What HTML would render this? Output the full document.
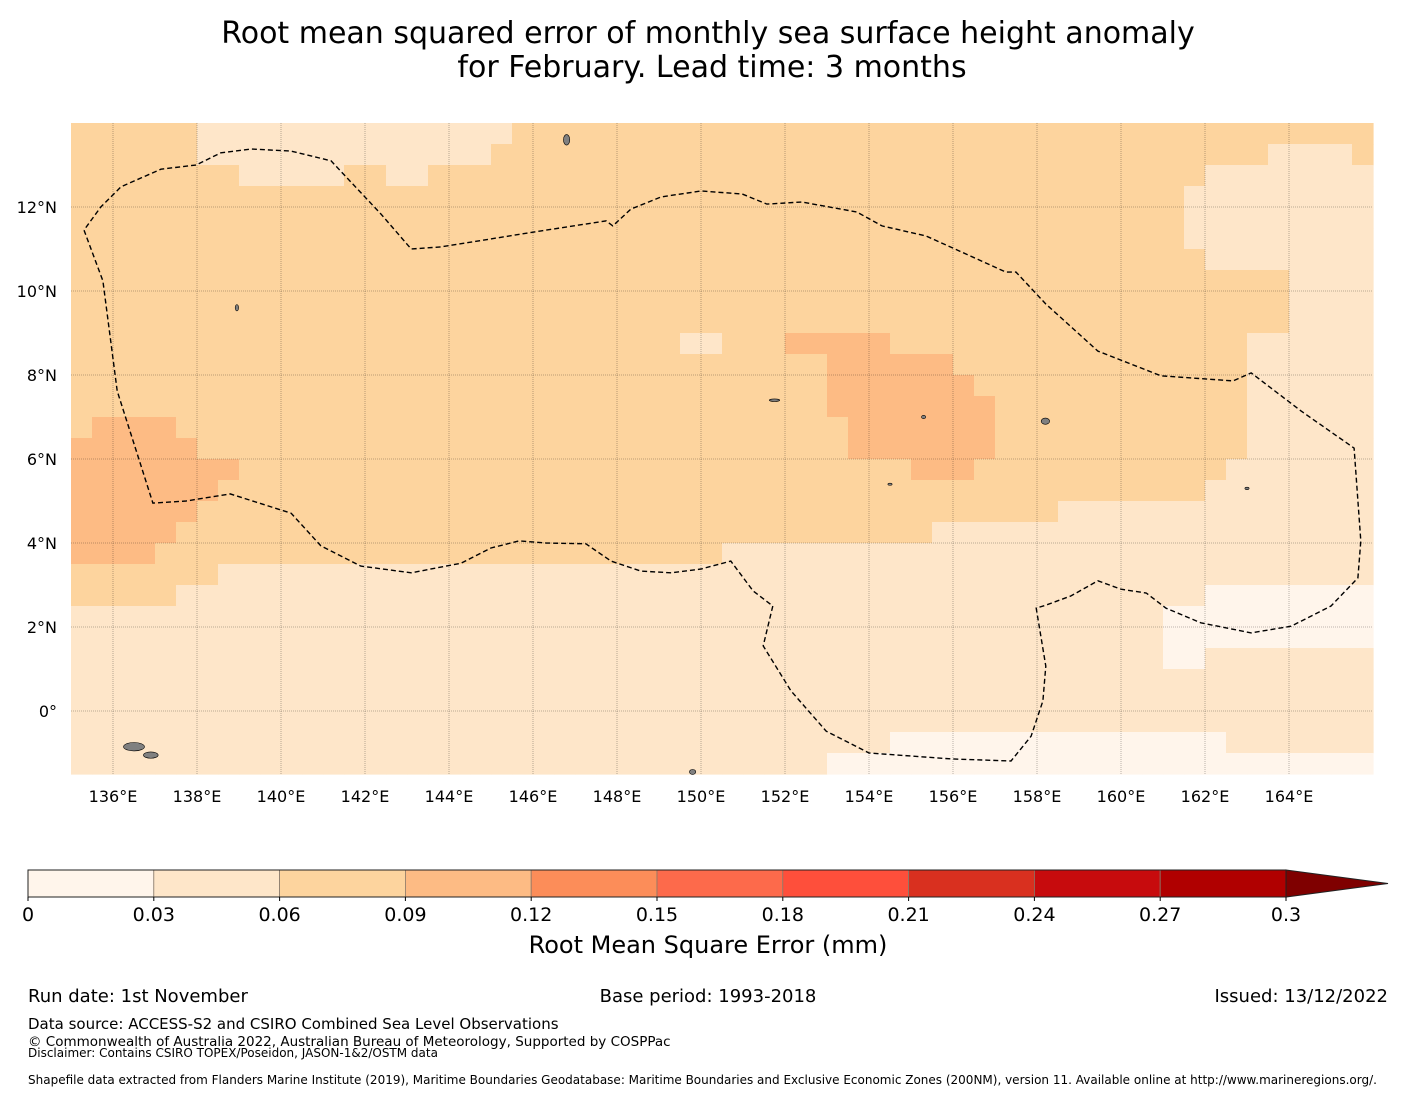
<!DOCTYPE html>
<html><head><meta charset="utf-8"><style>
html,body{margin:0;padding:0;background:#fff;}
svg{display:block;font-family:"DejaVu Sans","Liberation Sans",sans-serif;}
</style></head><body>
<svg id="svg" width="1416" height="1095" viewBox="0 0 1416 1095">
<text x="708" y="43" font-size="30" text-anchor="middle">Root mean squared error of monthly sea surface height anomaly</text>
<text x="712" y="77" font-size="30" text-anchor="middle">for February. Lead time: 3 months</text>
<g id="map"></g>
<g id="cbar"></g>
<text x="708" y="953" font-size="24" text-anchor="middle">Root Mean Square Error (mm)</text>
<text x="28" y="1002" font-size="18">Run date: 1st November</text>
<text x="708" y="1002" font-size="18" text-anchor="middle">Base period: 1993-2018</text>
<text x="1388" y="1002" font-size="18" text-anchor="end">Issued: 13/12/2022</text>
<text x="28" y="1029" font-size="15">Data source: ACCESS-S2 and CSIRO Combined Sea Level Observations</text>
<text x="28" y="1046" font-size="13.5">© Commonwealth of Australia 2022, Australian Bureau of Meteorology, Supported by COSPPac</text>
<text x="28" y="1057" font-size="12">Disclaimer: Contains CSIRO TOPEX/Poseidon, JASON-1&amp;2/OSTM data</text>
<text x="28" y="1084" font-size="12">Shapefile data extracted from Flanders Marine Institute (2019), Maritime Boundaries Geodatabase: Maritime Boundaries and Exclusive Economic Zones (200NM), version 11. Available online at http://www.marineregions.org/.</text>
</svg>
<script>
// grid rows from 14N down in 0.5 deg steps, columns from 135E in 0.5 deg steps; code = colour level
const gridRows = [
"22222211111111111111122222222222222222222222222222222222222222",
"22222211111111111111222222222222222222222222222222222222211112",
"22222222111112211222222222222222222222222222222222222211111111",
"22222222222222222222222222222222222222222222222222222111111111",
"22222222222222222222222222222222222222222222222222222111111111",
"22222222222222222222222222222222222222222222222222222111111111",
"22222222222222222222222222222222222222222222222222222211111111",
"22222222222222222222222222222222222222222222222222222222221111",
"22222222222222222222222222222222222222222222222222222222221111",
"22222222222222222222222222222222222222222222222222222222221111",
"22222222222222222222222222222112223333322222222222222222111111",
"22222222222222222222222222222222222233333322222222222222111111",
"22222222222222222222222222222222222233333332222222222222111111",
"22222222222222222222222222222222222233333333222222222222111111",
"23333222222222222222222222222222222223333333222222222222111111",
"33333322222222222222222222222222222223333333222222222222111111",
"33333333222222222222222222222222222222223332222222222221111111",
"33333332222222222222222222222222222222222222222222222211111111",
"33333322222222222222222222222222222222222222222111111111111111",
"33333222222222222222222222222222222222222111111111111111111111",
"33332222222222222222222222222221111111111111111111111111111111",
"22222221111111111111111111111111111111111111111111111111111111",
"22222111111111111111111111111111111111111111111111111100000000",
"11111111111111111111111111111111111111111111111111110000000000",
"11111111111111111111111111111111111111111111111111110000000000",
"11111111111111111111111111111111111111111111111111110011111111",
"11111111111111111111111111111111111111111111111111111111111111",
"11111111111111111111111111111111111111111111111111111111111111",
"11111111111111111111111111111111111111111111111111111111111111",
"11111111111111111111111111111111111111100000000000000001111111",
"11111111111111111111111111111111111100000000000000000000000000"
];
const levelColors = ["#fff5eb","#fee6c9","#fdd49e","#fdbb84"];
const lonTicks = [136,138,140,142,144,146,148,150,152,154,156,158,160,162,164];
const latTicks = [0,2,4,6,8,10,12];
const cbarBounds = [0,0.03,0.06,0.09,0.12,0.15,0.18,0.21,0.24,0.27,0.3];
const cbarColors = ["#fff5eb","#fee6c9","#fdd49e","#fdbb84","#fc8d59","#fd6a4b","#fe4f3b","#d9301f","#c70b0d","#b00000"];
const eezLon = [135.31,135.76,136.1,136.95,137.74,138.79,140.24,140.95,141.9,143.1,144.29,145.0,145.67,146.31,147.26,147.86,148.57,149.29,150.0,150.71,151.24,151.71,151.48,152.14,152.98,154.0,155.95,157.38,157.86,158.14,158.21,157.98,158.21,158.81,159.45,160.0,160.6,161.07,161.9,163.1,164.05,165.0,165.64,165.71,165.55,164.29,163.1,162.67,160.95,159.45,158.21,157.5,157.26,156.31,155.36,154.31,153.71,152.4,151.57,150.98,150.0,149.05,148.33,147.9,147.74,146.19,143.81,143.1,142.38,141.19,140.24,139.29,138.57,137.98,137.14,136.19,135.71,135.31];
const eezLat = [11.45,10.24,7.62,4.95,5.0,5.17,4.71,3.93,3.45,3.29,3.52,3.88,4.05,4.0,3.98,3.57,3.33,3.29,3.38,3.57,2.86,2.5,1.55,0.48,-0.48,-1.0,-1.14,-1.19,-0.6,0.24,1.07,2.45,2.52,2.74,3.1,2.9,2.81,2.45,2.1,1.86,2.02,2.5,3.17,4.05,6.26,7.14,8.05,7.86,7.98,8.57,9.69,10.45,10.45,10.88,11.31,11.55,11.88,12.12,12.07,12.31,12.38,12.24,11.95,11.55,11.67,11.43,11.05,11.0,11.83,13.1,13.33,13.38,13.29,13.0,12.9,12.48,12.0,11.45];
const islands = [[136.5,-0.85,0.5,0.2],[136.9,-1.05,0.35,0.15],[146.8,13.6,0.15,0.25],[138.95,9.6,0.08,0.15],[155.3,7.0,0.1,0.08],[158.2,6.9,0.2,0.15],[163.0,5.3,0.1,0.06],[151.75,7.4,0.25,0.06],[149.8,-1.45,0.15,0.12],[154.5,5.4,0.1,0.05]];
const NS="http://www.w3.org/2000/svg";
const X0=71,Y0=123,X1=1373,Y1=774,PX=42;
const xOf=lon=>X0+(lon-135)*PX;
const yOf=lat=>Y0+(14-lat)*PX;
function mk(tag,attrs,parent){const e=document.createElementNS(NS,tag);for(const k in attrs)e.setAttribute(k,attrs[k]);parent.appendChild(e);return e;}
const map=document.getElementById('map');
gridRows.forEach((row,i)=>{
  for(let j=0;j<row.length;j++){
    const lon=135+j*0.5, lat=14-i*0.5;
    const r=mk('rect',{x:xOf(lon),y:yOf(lat),width:PX*0.5+0.6,height:PX*0.5+0.6,fill:levelColors[+row[j]]},map);
    
    
  }
});
islands.forEach(s=>{
  const e=mk('ellipse',{cx:xOf(s[0]),cy:yOf(s[1]),rx:s[2]*PX/2,ry:s[3]*PX/2,fill:'#808080',stroke:'#000','stroke-width':0.6},map);
  
  
});
lonTicks.forEach(l=>{
  const x=xOf(l);
  const g=mk('line',{x1:x,y1:Y0,x2:x,y2:Y1,stroke:'#000','stroke-opacity':0.35,'stroke-width':0.8,'stroke-dasharray':'1,1'},map);
  
  
  const t=mk('text',{x:x,y:802,'font-size':16,'text-anchor':'middle'},map);
  t.textContent=l+'°E';
  
  
});
latTicks.forEach(l=>{
  const y=yOf(l);
  const g=mk('line',{x1:X0,y1:y,x2:X1,y2:y,stroke:'#000','stroke-opacity':0.35,'stroke-width':0.8,'stroke-dasharray':'1,1'},map);
  
  
  const t=mk('text',{x:57,y:y+6,'font-size':16,'text-anchor':'end'},map);
  t.textContent=l===0?'0°':l+'°N';
  
  
});
const pts=eezLon.map((lo,i)=>xOf(lo).toFixed(1)+','+yOf(eezLat[i]).toFixed(1)).join(' ');
const eez=mk('polyline',{points:pts,fill:'none',stroke:'#000','stroke-width':1.4,'stroke-dasharray':'5,3'},map);


// colorbar
const cb=document.getElementById('cbar');
const CX0=28,CX1=1286,CY=870,CH=27;
const cx=v=>CX0+(v-cbarBounds[0])/(cbarBounds[cbarBounds.length-1]-cbarBounds[0])*(CX1-CX0);
cbarColors.forEach((c,i)=>{
  const r=mk('rect',{x:cx(cbarBounds[i]),y:CY,width:cx(cbarBounds[i+1])-cx(cbarBounds[i]),height:CH,fill:c,stroke:'#8a7a6a','stroke-width':0.8},cb);
  
  
});
const ar=mk('polygon',{points:`${CX1},${CY} 1388,${CY+CH/2} ${CX1},${CY+CH}`,fill:'#7f0000',stroke:'#222','stroke-width':1},cb);


const ob=mk('rect',{x:CX0,y:CY,width:CX1-CX0,height:CH,fill:'none',stroke:'#222','stroke-width':1},cb);


cbarBounds.forEach(v=>{
  const tk=mk('line',{x1:cx(v),y1:CY+CH,x2:cx(v),y2:CY+CH+4,stroke:'#000'},cb);
  
  
  const t=mk('text',{x:cx(v),y:921,'font-size':19,'text-anchor':'middle'},cb);
  t.textContent=String(v);
  
  
});
</script>
</body></html>
